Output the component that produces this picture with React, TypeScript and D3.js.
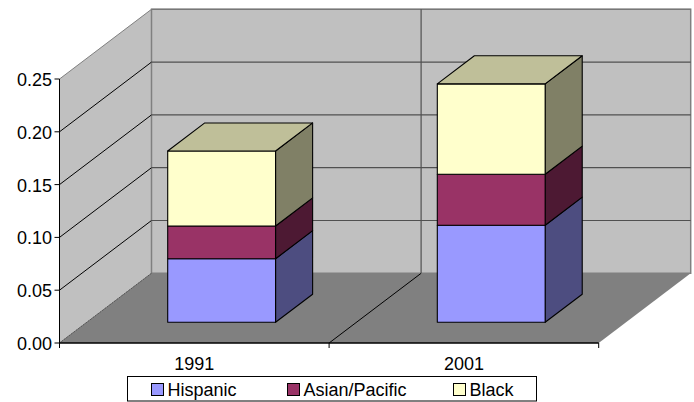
import React from "react";
import * as d3 from "d3";

const categories = ["1991", "2001"];
const seriesNames = ["Hispanic", "Asian/Pacific", "Black"];
const hispanic = [0.0602, 0.0919];
const asianPacific = [0.031, 0.0483];
const black = [0.071, 0.0856];
const yTicks = [0, 0.05, 0.1, 0.15, 0.2, 0.25];

const frontFill = ["#9999FF", "#993366", "#FFFFCC"];
const topFill = ["#7373BF", "#73264C", "#BFBF99"];
const sideFill = ["#4D4D80", "#4D1933", "#808066"];

const W = 694;
const H = 402;
const FONT = "'Liberation Sans', Arial, sans-serif";
const FONT_SIZE = 18;

// Oblique projection of the plot box: depth runs from 0 (front) to 1 (back wall).
const depthX = d3.scaleLinear().domain([0, 1]).range([0, 92]);
const depthY = d3.scaleLinear().domain([0, 1]).range([0, -69.7]);
const x = d3.scaleBand<string>().domain(categories).range([59.5, 598.7]);
const y = d3.scaleLinear().domain([0, 0.25]).range([343, 79]);

const BAR_SHARE = 0.4;
const BAR_Z0 = 0.297;
const BAR_Z1 = 0.7;

const pt = (px: number, value: number, z: number): [number, number] => [
  px + depthX(z),
  y(value) + depthY(z),
];
const poly = (pts: [number, number][]) => pts.map((p) => p.join(",")).join(" ");

const series = [hispanic, asianPacific, black];

export default function App() {
  const x0 = x.range()[0];
  const x1 = x.range()[1];
  const yMax = 0.25;

  const legendX = [151.5, 287.5, 453.5];

  return (
    <svg
      width={W}
      height={H}
      style={{ position: "absolute", left: 0, top: 0, display: "block" }}
      fontFamily={FONT}
    >
      <rect width={W} height={H} fill="#fff" />

      {/* side wall, back wall, floor */}
      <polygon
        points={poly([pt(x0, 0, 0), pt(x0, yMax, 0), pt(x0, yMax, 1), pt(x0, 0, 1)])}
        fill="#C0C0C0"
        stroke="#808080"
        strokeWidth={1}
      />
      <polygon
        points={poly([pt(x0, 0, 1), pt(x0, yMax, 1), pt(x1, yMax, 1), pt(x1, 0, 1)])}
        fill="#C0C0C0"
        stroke="#808080"
        strokeWidth={1.5}
      />
      <polygon
        points={poly([pt(x0, 0, 0), pt(x0, 0, 1), pt(x1, 0, 1), pt(x1, 0, 0)])}
        fill="#808080"
      />

      {/* gridlines follow the side wall then the back wall */}
      {yTicks.slice(1).map((t) => (
        <g key={t} fill="none">
          {t < yMax && (
            <line
              x1={pt(x0, t, 0)[0]}
              y1={pt(x0, t, 0)[1]}
              x2={pt(x0, t, 1)[0]}
              y2={pt(x0, t, 1)[1]}
              stroke="#000"
              strokeWidth={1}
            />
          )}
          <line
            x1={pt(x0, t, 1)[0]}
            y1={pt(x0, t, 1)[1]}
            x2={pt(x1, t, 1)[0]}
            y2={pt(x1, t, 1)[1]}
            stroke={t < yMax ? "#505050" : "#777"}
            strokeWidth={1.2}
          />
        </g>
      ))}

      {/* category divider across floor and back wall */}
      {(() => {
        const mid = x(categories[1])!;
        const a = pt(mid, 0, 0);
        const b = pt(mid, 0, 1);
        const c = pt(mid, yMax, 1);
        return (
          <>
            <line x1={a[0]} y1={a[1]} x2={b[0]} y2={b[1]} stroke="#000" strokeWidth={1} />
            <line x1={b[0]} y1={b[1]} x2={c[0]} y2={c[1]} stroke="#505050" strokeWidth={1.2} />
          </>
        );
      })()}
      <line
        x1={pt(x0, 0, 1)[0]}
        y1={pt(x0, 0, 1)[1]}
        x2={pt(x0, 0, 0)[0]}
        y2={pt(x0, 0, 0)[1]}
        stroke="#555"
        strokeWidth={1}
        strokeDasharray="2 1"
      />

      {/* stacked boxes */}
      {categories.map((cat, i) => {
        const band = x.bandwidth();
        const bw = band * BAR_SHARE;
        const left = x(cat)! + (band - bw) / 2;
        const right = left + bw;
        let base = 0;
        return (
          <g key={cat} stroke="#000" strokeWidth={1.1} strokeLinejoin="round">
            {series.map((vals, s) => {
              const lo = base;
              const hi = base + vals[i];
              base = hi;
              const isTop = s === series.length - 1;
              return (
                <g key={s}>
                  <polygon
                    points={poly([
                      pt(right, lo, BAR_Z0),
                      pt(right, hi, BAR_Z0),
                      pt(right, hi, BAR_Z1),
                      pt(right, lo, BAR_Z1),
                    ])}
                    fill={sideFill[s]}
                  />
                  <polygon
                    points={poly([
                      pt(left, lo, BAR_Z0),
                      pt(left, hi, BAR_Z0),
                      pt(right, hi, BAR_Z0),
                      pt(right, lo, BAR_Z0),
                    ])}
                    fill={frontFill[s]}
                  />
                  {isTop && (
                    <polygon
                      points={poly([
                        pt(left, hi, BAR_Z0),
                        pt(left, hi, BAR_Z1),
                        pt(right, hi, BAR_Z1),
                        pt(right, hi, BAR_Z0),
                      ])}
                      fill={topFill[s]}
                    />
                  )}
                </g>
              );
            })}
          </g>
        );
      })}

      {/* value axis */}
      <line x1={x0} y1={y(0)} x2={x0} y2={y(yMax)} stroke="#000" strokeWidth={1} />
      {yTicks.map((t) => (
        <g key={t}>
          <line x1={x0 - 5} y1={y(t)} x2={x0} y2={y(t)} stroke="#000" strokeWidth={1} />
          <text x={52} y={y(t) + 7} textAnchor="end" fontSize={FONT_SIZE} fill="#000">
            {t.toFixed(2)}
          </text>
        </g>
      ))}

      {/* category axis */}
      <line x1={x0} y1={y(0)} x2={x1} y2={y(0)} stroke="#000" strokeWidth={1.5} />
      {[x0, x(categories[1])!, x1].map((px) => (
        <line key={px} x1={px} y1={y(0)} x2={px} y2={y(0) + 5} stroke="#000" strokeWidth={1} />
      ))}
      {categories.map((cat) => (
        <text
          key={cat}
          x={x(cat)! + x.bandwidth() / 2}
          y={370}
          textAnchor="middle"
          fontSize={FONT_SIZE}
          fill="#000"
        >
          {cat}
        </text>
      ))}

      {/* legend */}
      <rect x={127.5} y={376.5} width={409} height={24.5} fill="#fff" stroke="#000" strokeWidth={1} />
      {seriesNames.map((name, i) => (
        <g key={name}>
          <rect
            x={legendX[i]}
            y={383.5}
            width={12}
            height={12}
            fill={frontFill[i]}
            stroke="#000"
            strokeWidth={1}
          />
          <text x={legendX[i] + 16} y={396} fontSize={FONT_SIZE} fill="#000">
            {name}
          </text>
        </g>
      ))}
    </svg>
  );
}
